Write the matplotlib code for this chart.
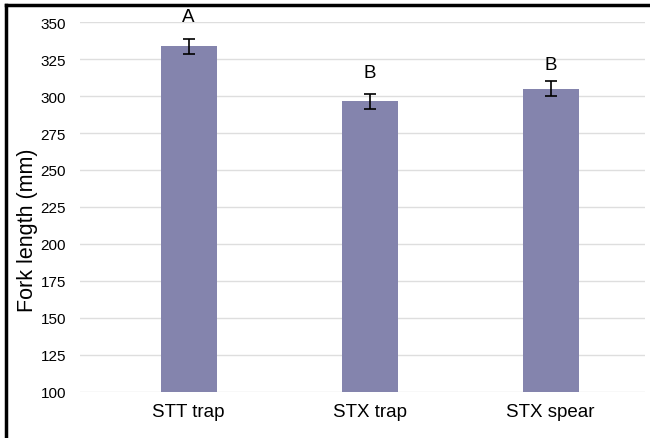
import matplotlib.pyplot as plt
from matplotlib.lines import Line2D
import numpy as np

categories = ["STT trap", "STX trap", "STX spear"]
means = [333.5, 296.5, 305]
errors = [5, 5, 5]
letters = ["A", "B", "B"]
letter_pos = [354, 316, 321.5]
yticks = [100, 125, 150, 175, 200, 225, 250, 275, 300, 325, 350]

fig = plt.figure(figsize=(6.5, 4.39), dpi=100)
ax = fig.add_axes([0.123, 0.105, 0.869, 0.8425])

x = np.arange(len(categories))
ax.bar(x, means, width=0.31, color="#8484ad", zorder=2)
ax.errorbar(x, means, yerr=errors, fmt="none", ecolor="black",
            elinewidth=1.2, capsize=4, capthick=1.2, zorder=3)
for xi, lab, yp in zip(x, letters, letter_pos):
    ax.text(xi, yp, lab, ha="center", va="center", fontsize=13.5,
            family="Liberation Sans")

ax.set_ylim(100, 350)
ax.set_xlim(-0.6, 2.52)
ax.set_yticks(yticks)
ax.set_xticks(x)
ax.set_xticklabels(categories, fontsize=13.5, family="Liberation Sans")
for t in ax.get_yticklabels():
    t.set_fontsize(11)
    t.set_family("Liberation Sans")
ax.tick_params(length=0, pad=10)
ax.tick_params(axis="x", pad=8)
ax.yaxis.grid(True, color="#dedede", linewidth=1, zorder=0)
ax.set_axisbelow(True)
for s in ax.spines.values():
    s.set_visible(False)
ax.set_ylabel("Fork length (mm)", fontsize=15.5, family="Liberation Sans",
              va="center")
ax.yaxis.set_label_coords(-0.093, 0.44)

# black frame on top and left edges
fig.add_artist(Line2D([0.009, 1.0], [0.986, 0.986], color="black",
                      linewidth=2.5, transform=fig.transFigure))
fig.add_artist(Line2D([0.009, 0.009], [0.0, 0.986], color="black",
                      linewidth=2.5, transform=fig.transFigure))

fig.savefig("out.png", dpi=100)
